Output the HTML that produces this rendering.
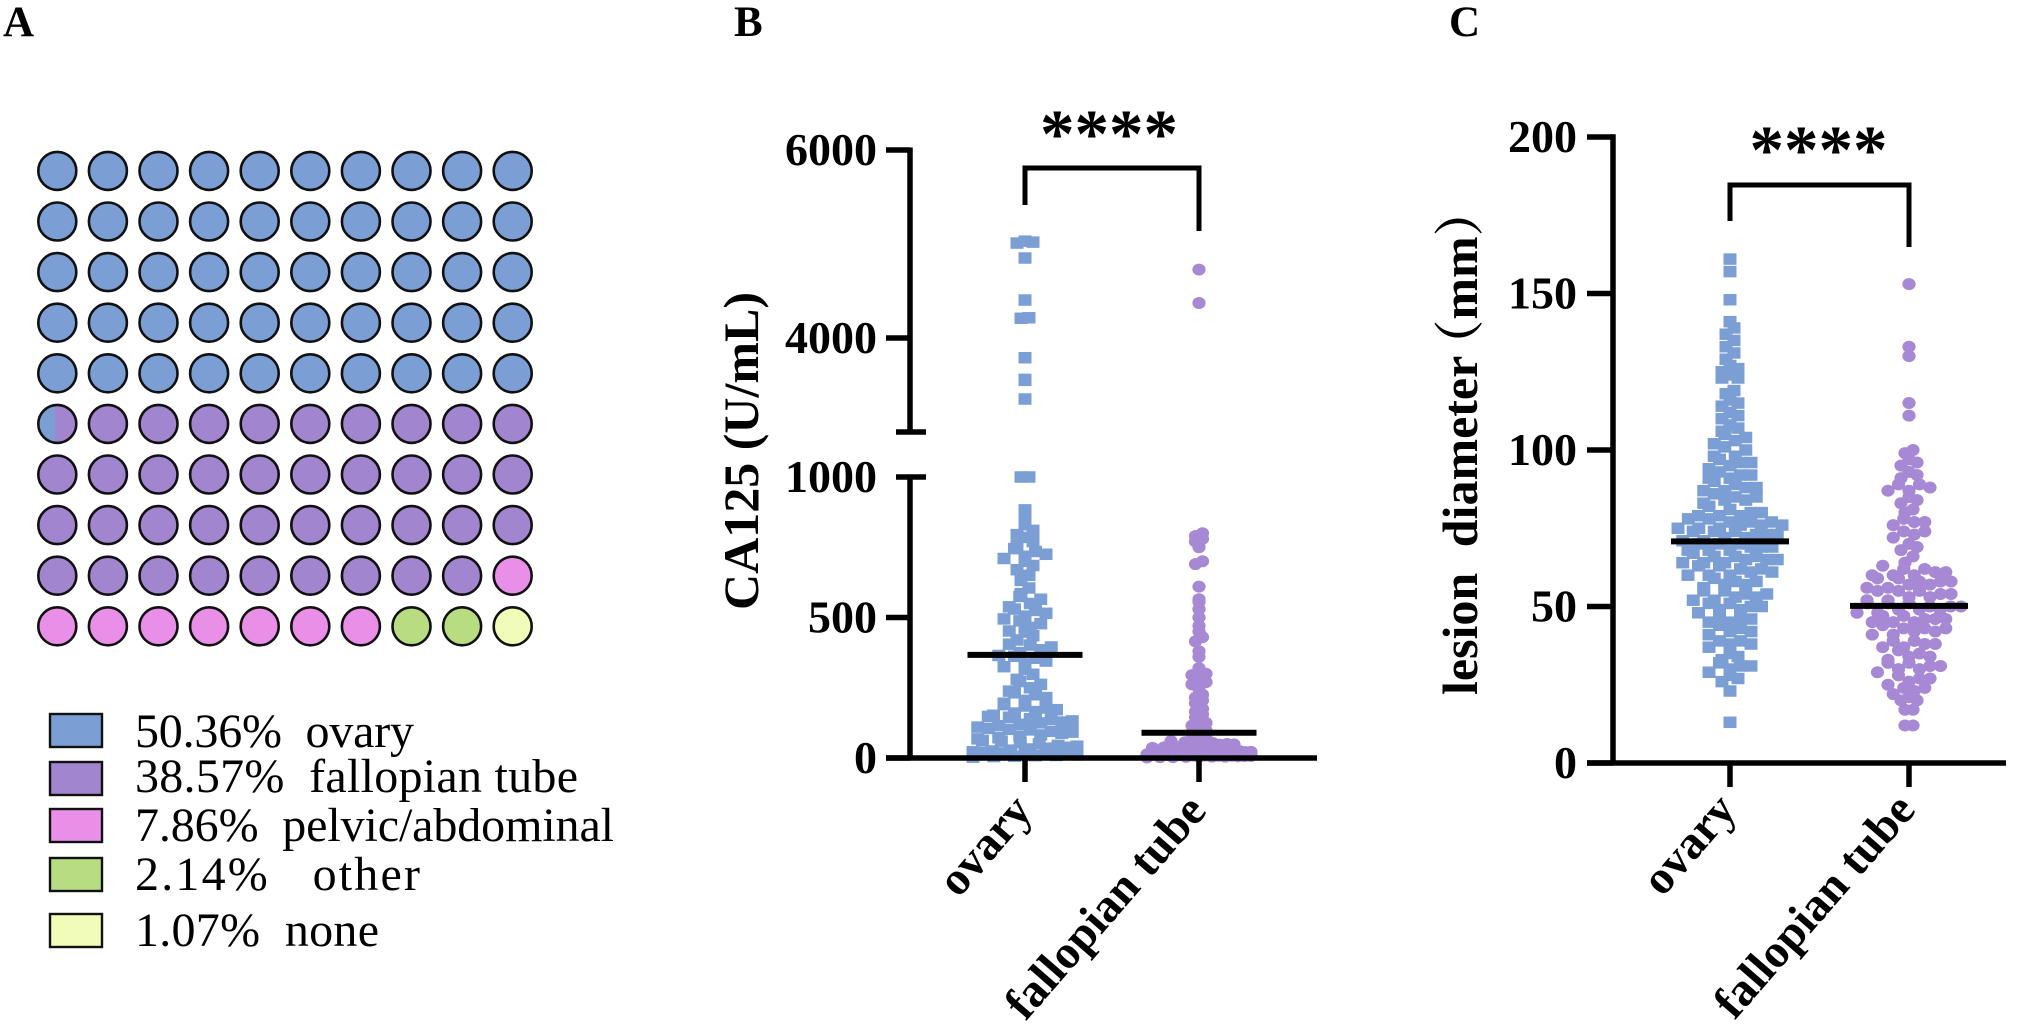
<!DOCTYPE html>
<html lang="en">
<head>
<meta charset="utf-8">
<title>Lesion site, CA125 and lesion diameter</title>
<style>
html,body{margin:0;padding:0;background:#fff;width:2033px;height:1034px;overflow:hidden}
svg{display:block}
text{font-family:"Liberation Serif","Noto Serif CJK SC",serif;fill:#000}
.b{font-weight:700}
</style>
</head>
<body>
<svg id="figure" width="2033" height="1034" viewBox="0 0 2033 1034" xmlns="http://www.w3.org/2000/svg">
  <defs>
    <linearGradient id="split-cell" x1="0" y1="0" x2="1" y2="0">
      <stop offset="0.44" stop-color="#7b9fd4"/>
      <stop offset="0.44" stop-color="#a285cf"/>
    </linearGradient>
  </defs>
  <rect width="2033" height="1034" fill="#fff"/>
  <text class="b" x="3" y="36" font-size="43">A</text>
  <text class="b" x="734" y="36" font-size="43">B</text>
  <text class="b" x="1449" y="36" font-size="43">C</text>
  <g id="panel-a"></g>
  <g id="panel-b"></g>
  <g id="panel-c"></g>
</svg>
<script>
/* ---------- Panel A data ---------- */
const siteNames = ["ovary", "fallopian tube", "pelvic/abdominal", " other", "none"];
const sitePercents = [50.36, 38.57, 7.86, 2.14, 1.07];
const siteLabels = ["50.36%", "38.57%", "7.86%", "2.14%", "1.07%"];

/* ---------- Panel B data ---------- */
const groupNames = ["ovary", "fallopian tube"];
const ca125Ticks = [0, 500, 1000, 4000, 6000];
const ca125Ovary = [3,5,6,8,9,11,12,14,16,18,20,22,25,28,32,35,38,42,45,50,55,60,62,68,72,78,82,88,92,95,100,102,105,110,115,120,125,128,132,138,140,145,148,152,160,165,172,178,185,190,195,205,215,225,232,238,250,262,272,280,298,315,325,335,345,355,362,365,375,385,395,402,405,420,435,448,452,465,478,488,495,505,515,525,530,538,550,565,575,585,605,632,650,670,685,700,710,718,725,735,745,755,770,785,795,810,830,845,883,1000,1000,3351,3550,3560,3790,4210,4215,4404,4851,5010,5020,5030];
const ca125Tube = [2,3,3,4,4,5,5,6,7,7,8,8,9,9,10,11,12,13,14,15,15,16,17,18,19,20,21,22,24,25,26,28,30,32,34,35,36,38,40,41,44,47,48,50,53,55,56,60,65,72,80,90,98,105,115,125,132,145,155,165,175,195,205,215,225,245,262,270,285,295,300,305,320,360,380,415,430,450,470,500,530,555,565,610,690,700,750,770,780,790,800,4372,4728];
const ca125Medians = [367, 90];

/* ---------- Panel C data ---------- */
const diameterTicks = [0, 50, 100, 150, 200];
const diameterOvary = [13,23,26,27,28,29,30,31,31,32,33,34,35,37,38,38,39,39,41,42,42,43,44,45,45,46,46,47,48,49,49,50,50,51,51,52,52,53,53,54,54,55,55,56,57,57,58,58,59,60,60,60,61,61,62,62,63,63,64,64,64,65,65,65,66,66,66,67,68,68,68,69,69,69,70,70,70,71,71,72,72,73,73,73,74,74,74,75,75,75,76,76,76,77,77,77,78,78,79,79,79,80,80,81,82,83,84,84,85,85,86,87,87,88,88,89,90,91,91,92,92,93,94,95,96,96,97,98,98,100,101,102,103,104,105,106,107,108,110,111,112,114,115,116,118,119,123,123,124,125,126,127,129,131,133,135,137,139,141,148,157,161];
const diameterTube = [12,12,17,17,20,20,21,22,23,24,24,25,26,27,27,28,29,30,30,31,31,32,32,33,34,34,35,36,37,37,38,38,39,39,41,41,42,42,43,43,43,44,45,45,45,46,46,46,47,47,48,48,49,49,49,50,50,50,51,51,51,52,52,53,53,54,54,55,55,55,56,56,57,57,58,58,58,59,59,60,60,60,61,61,62,62,63,64,66,68,69,70,72,73,74,74,76,77,77,78,80,81,83,84,85,87,87,88,89,89,91,92,93,95,96,97,99,100,111,115,130,133,153];
const diameterMedians = [70.8, 50.2];

const NS = "http://www.w3.org/2000/svg";
const BLUE = "#7b9fd4", PURPLE = "#a688d4";

function make(tag, attrs, parent, txt) {
  const el = document.createElementNS(NS, tag);
  for (const k in attrs) el.setAttribute(k, attrs[k]);
  if (txt !== undefined) el.textContent = txt;
  parent.appendChild(el);
  return el;
}

/* ---------- scales ---------- */
function yB(v) {
  if (v <= 1000) return 758 - v * 0.281;
  return 338 - (v - 4000) * 0.094;
}
function yC(v) { return 763 - v * 3.13; }

/* ---------- swarm placement derived from values ---------- */
function swarm(values, yScale, baseline, cx, binPx, baseStep) {
  const bins = {};
  values.forEach(function (v) {
    const k = Math.round((baseline - yScale(v)) / binPx);
    (bins[k] = bins[k] || []).push(v);
  });
  const out = [];
  Object.keys(bins).forEach(function (k) {
    const list = bins[k].slice().sort(function (a, b) { return a - b; });
    const n = list.length;
    const wanted = n <= 3 ? Math.min(baseStep, 8) : baseStep;
    const step = n > 1 ? Math.min(wanted, 104 / (n - 1)) : 0;
    const slots = [];
    for (let i = 0; i < n; i++) slots.push((i - (n - 1) / 2) * step);
    const order = [];
    for (let i = 0; i < n; i += 2) order.push(slots[i]);
    for (let i = n % 2 ? n - 2 : n - 1; i > 0; i -= 2) order.push(slots[i]);
    list.forEach(function (v, i) {
      out.push({ v: v, x: cx + order[i], y: yScale(v) });
    });
  });
  return out;
}

function drawSquares(parent, pts, name) {
  pts.forEach(function (p) {
    const m = make("rect", { x: p.x - 6.5, y: p.y - 5.75, width: 13, height: 11.5, fill: BLUE }, parent);
    
    
  });
}
function drawDots(parent, pts, name) {
  pts.forEach(function (p) {
    const m = make("ellipse", { cx: p.x, cy: p.y, rx: 6.6, ry: 6, fill: PURPLE }, parent);
    
    
  });
}
function line(parent, x1, y1, x2, y2, w, name) {
  const l = make("line", { x1: x1, y1: y1, x2: x2, y2: y2, stroke: "#000", "stroke-width": w }, parent);
  
  
  return l;
}
function label(parent, x, y, size, anchor, str, name, bold, rot) {
  const t = make("text", { x: x, y: y, "font-size": size, "text-anchor": anchor }, parent, str);
  if (bold) t.setAttribute("class", "b");
  if (rot) t.setAttribute("transform", "rotate(" + rot + " " + x + " " + y + ")");
  t.style.whiteSpace = "pre";
  
  
  return t;
}

/* ---------- Panel A ---------- */
(function () {
  const g = document.getElementById("panel-a");
  const colors = ["#7b9fd4", "#a285cf", "#e98fe8", "#b8dc82", "#f1fcb9"];
  const edges = [];
  sitePercents.reduce(function (s, p, i) { edges[i] = s + p; return edges[i]; }, 0);
  for (let c = 0; c < 100; c++) {
    const mid = c + 0.5;
    let idx = edges.findIndex(function (e) { return mid <= e; });
    if (idx < 0) idx = sitePercents.length - 1;
    let fill = colors[idx];
    if (edges[0] > c && edges[0] < c + 1) fill = "url(#split-cell)";
    const col = c % 10, row = Math.floor(c / 10);
    const dot = make("circle", { cx: 57.3 + col * 50.6, cy: 170.9 + row * 50.6, r: 19, fill: fill, stroke: "#111", "stroke-width": 2.6 }, g);
    
    
  }
  const swatchTops = [714, 762, 809, 858, 914];
  const baselines = [747, 792, 841, 890, 946];
  const textWidths = [279, 443, 479, 285, 244];
  siteNames.forEach(function (n, i) {
    const s = make("rect", { x: 50, y: swatchTops[i], width: 52, height: 33, fill: colors[i], stroke: "#111", "stroke-width": 2.4 }, g);
    
    
    const t = label(g, 135, baselines[i], 48, "start", siteLabels[i] + "  " + n, "legend-entry", false);
    t.setAttribute("textLength", textWidths[i]);
    t.setAttribute("lengthAdjust", "spacing");
  });
})();

/* ---------- Panel B ---------- */
(function () {
  const g = document.getElementById("panel-b");
  const cx = [1025, 1199];
  drawSquares(g, swarm(ca125Ovary, yB, 758, cx[0], 12, 10.5), "ca125-ovary-point");
  drawDots(g, swarm(ca125Tube, yB, 758, cx[1], 7, 7), "ca125-tube-point");
  line(g, 910, 147.5, 910, 434, 5.5, "y-axis-upper");
  line(g, 910, 475, 910, 760, 5.5, "y-axis-lower");
  line(g, 886, 758, 1317, 758, 5.5, "x-axis");
  line(g, 896, yB(3000), 926, yB(3000), 5.5, "axis-break-upper");
  line(g, 896, yB(1000), 926, yB(1000), 5.5, "axis-break-lower");
  ca125Ticks.forEach(function (t) {
    if (t !== 1000) line(g, 886, yB(t), 910, yB(t), 5.5, "y-tick");
    label(g, 877, yB(t) + 15, 46, "end", String(t), "y-tick-label", true);
  });
  cx.forEach(function (x, i) {
    line(g, x, 758, x, 782, 5.5, "x-tick");
    label(g, x + 9, 812, 47, "end", groupNames[i], "x-tick-label", true, -49);
    line(g, x - 57.5, yB(ca125Medians[i]), x + 57.5, yB(ca125Medians[i]), 6, "median-line");
  });
  label(g, 758, 451, 50, "middle", "CA125 (U/mL)", "y-axis-title", true, -90);
  const b = make("path", { d: "M" + cx[0] + " 205V168H" + cx[1] + "V231", fill: "none", stroke: "#000", "stroke-width": 5 }, g);
  
  
  label(g, (cx[0] + cx[1]) / 2 - 3, 157, 69, "middle", "****", "significance-stars", true);
})();

/* ---------- Panel C ---------- */
(function () {
  const g = document.getElementById("panel-c");
  const cx = [1730, 1909];
  drawSquares(g, swarm(diameterOvary, yC, 763, cx[0], 12, 10.5), "diameter-ovary-point");
  drawDots(g, swarm(diameterTube, yC, 763, cx[1], 12, 10.5), "diameter-tube-point");
  line(g, 1613, yC(200) - 2.7, 1613, 765, 5.5, "y-axis");
  line(g, 1587, 763, 2006, 763, 5.5, "x-axis");
  diameterTicks.forEach(function (t) {
    line(g, 1587, yC(t), 1613, yC(t), 5.5, "y-tick");
    label(g, 1577, yC(t) + 15, 46, "end", String(t), "y-tick-label", true);
  });
  cx.forEach(function (x, i) {
    line(g, x, 763, x, 787, 5.5, "x-tick");
    label(g, x + 8, 811, 47, "end", groupNames[i], "x-tick-label", true, -49);
    line(g, x - 59, yC(diameterMedians[i]), x + 59, yC(diameterMedians[i]), 6, "median-line");
  });
  const title = label(g, 1477, 695, 50, "start", "lesion diameter", "y-axis-title", true, -90);
  title.setAttribute("word-spacing", "13");
  const parens = make("tspan", { dx: "-14" }, title, "（mm）");
  
  
  const b = make("path", { d: "M" + cx[0] + " 221V185H" + cx[1] + "V247", fill: "none", stroke: "#000", "stroke-width": 5 }, g);
  
  
  label(g, (cx[0] + cx[1]) / 2 - 1, 173, 69, "middle", "****", "significance-stars", true);
})();
</script>
</body>
</html>
